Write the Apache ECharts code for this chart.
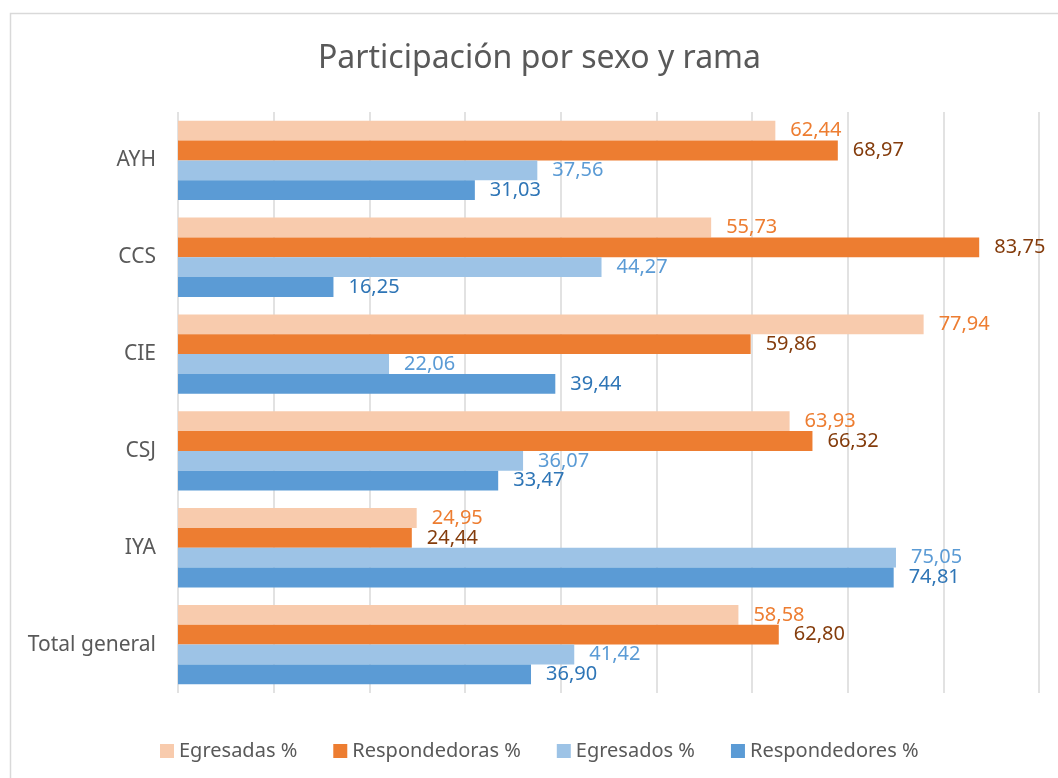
<!DOCTYPE html>
<html>
<head>
<meta charset="utf-8">
<script src="https://cdn.jsdelivr.net/npm/echarts@6/dist/echarts.min.js"></script>
<style>
  html, body { margin: 0; padding: 0; background: #fff; }
  #chart { width: 1058px; height: 778px; }
</style>
</head>
<body>
<div id="chart"></div>
<script>
  // categorias (de arriba hacia abajo)
  var categories = ['AYH', 'CCS', 'CIE', 'CSJ', 'IYA', 'Total general'];
  var seriesNames = ['Egresadas %', 'Respondedoras %', 'Egresados %', 'Respondedores %'];

  var egresadas = [62.44, 55.73, 77.94, 63.93, 24.95, 58.58];
  var respondedoras = [68.97, 83.75, 59.86, 66.32, 24.44, 62.80];
  var egresados = [37.56, 44.27, 22.06, 36.07, 75.05, 41.42];
  var respondedores = [31.03, 16.25, 39.44, 33.47, 74.81, 36.90];

  var barColors = ['#F8CBAD', '#ED7D31', '#9DC3E6', '#5B9BD5'];
  var labelColors = ['#ED7D31', '#843C0C', '#5B9BD5', '#2E75B6'];
  var allData = [egresadas, respondedoras, egresados, respondedores];

  var font = '"Noto Sans", sans-serif';

  var chart = echarts.init(document.getElementById('chart'));

  var series = seriesNames.map(function (name, i) {
    return {
      name: name,
      type: 'bar',
      data: allData[i],
      barGap: '0%',
      barCategoryGap: '18%',
      itemStyle: { color: barColors[i] },
      label: {
        show: true,
        position: 'right',
        distance: 15,
        color: labelColors[i],
        fontSize: 20,
        fontFamily: font,
        formatter: function (p) {
          return p.value.toFixed(2).replace('.', ',');
        }
      }
    };
  });

  chart.setOption({
    animation: false,
    title: {
      text: 'Participación por sexo y rama',
      left: 313,
      top: 38,
      textStyle: {
        color: '#595959',
        fontSize: 32,
        fontWeight: 'normal',
        fontFamily: font
      }
    },
    legend: {
      top: 736,
      left: 155,
      icon: 'rect',
      itemWidth: 14,
      itemHeight: 14,
      itemGap: 36,
      textStyle: { color: '#595959', fontSize: 20, fontFamily: font },
      data: seriesNames
    },
    grid: { left: 178, right: 19, top: 112, bottom: 85 },
    xAxis: {
      type: 'value',
      min: 0,
      max: 90,
      interval: 10,
      axisLabel: { show: false },
      axisLine: { show: false },
      axisTick: { show: false },
      splitLine: { lineStyle: { color: '#d9d9d9', width: 1.5 } }
    },
    yAxis: {
      type: 'category',
      inverse: true,
      data: categories,
      axisLine: { show: false },
      axisTick: { show: false },
      axisLabel: { color: '#595959', fontSize: 21, fontFamily: font, margin: 22 }
    },
    graphic: [{
      type: 'rect',
      shape: { x: 10.5, y: 13.5, width: 1200, height: 900 },
      style: { fill: 'none', stroke: '#d9d9d9', lineWidth: 1.5 },
      silent: true
    }],
    series: series
  });
</script>
</body>
</html>
